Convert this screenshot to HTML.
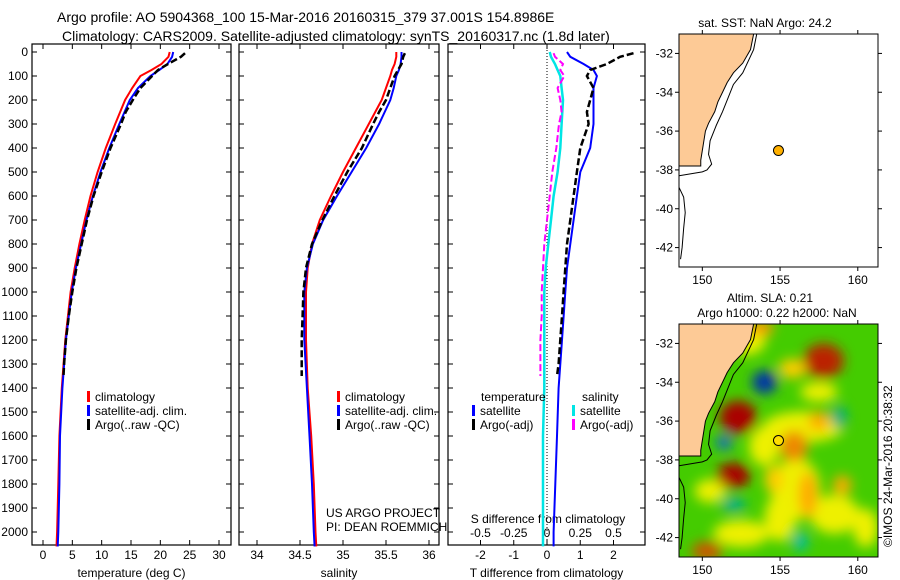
<!DOCTYPE html>
<html><head><meta charset="utf-8">
<style>
html,body{margin:0;padding:0;background:#fff;}
svg{display:block;font-family:"Liberation Sans",sans-serif;}
text{fill:#000;}
</style></head>
<body>
<svg id="fig" width="900" height="580" viewBox="0 0 900 580">
<defs>
  <filter id="blur" x="-20%" y="-20%" width="140%" height="140%"><feGaussianBlur stdDeviation="6"/></filter>
  <clipPath id="map2clip"><rect x="679" y="324" width="199" height="233"/></clipPath>
  <clipPath id="map1clip"><rect x="679" y="34" width="199" height="233"/></clipPath>
</defs>
<text x="57" y="22" font-size="14">Argo profile: AO 5904368_100 15-Mar-2016 20160315_379 37.001S 154.8986E</text>
<text x="62" y="41" font-size="14">Climatology: CARS2009. Satellite-adjusted climatology: synTS_20160317.nc (1.8d later)</text>
<g id="panels"></g>
<g id="maps"></g>
<text transform="translate(892,547) rotate(-90)" font-size="12">©IMOS 24-Mar-2016 20:38:32</text>
</svg>
<script>
// ---------- data ----------
const tDepth = [0,20,50,75,100,150,200,300,400,500,600,700,800,900,1000,1200,1400,1600,1800,2000,2060];
const tClim  = [21.6,21.4,20.2,18.5,16.6,15.2,14.0,12.3,10.7,9.3,8.1,7.1,6.2,5.4,4.7,3.8,3.2,2.8,2.6,2.4,2.3];
const tSat   = [22.2,22.0,21.2,19.8,18.3,16.2,14.8,13.0,11.3,9.8,8.5,7.4,6.5,5.6,4.9,3.9,3.3,2.9,2.8,2.6,2.5];
const aDepth = [5,20,50,75,100,150,200,250,300,400,500,600,700,800,900,1000,1100,1200,1300,1350];
const tArgo  = [24.2,23.5,21.3,19.6,18.6,16.6,15.3,14.1,13.3,11.5,10.0,8.6,7.5,6.6,5.7,5.0,4.4,3.9,3.6,3.5];
const sClim  = [35.62,35.62,35.60,35.57,35.55,35.50,35.45,35.30,35.15,35.00,34.86,34.73,34.64,34.59,34.57,34.57,34.59,34.63,34.66,34.68,34.69];
const sSat   = [35.68,35.68,35.67,35.65,35.62,35.59,35.55,35.42,35.27,35.10,34.93,34.77,34.65,34.58,34.55,34.55,34.58,34.61,34.64,34.66,34.67];
const sArgo  = [35.72,35.70,35.68,35.64,35.60,35.55,35.50,35.42,35.35,35.22,35.05,34.90,34.76,34.64,34.57,34.54,34.53,34.52,34.52,34.52];
const dTSat  = [0.6,0.7,1.1,1.4,1.5,1.4,1.4,1.4,1.3,1.0,0.9,0.8,0.7,0.6,0.55,0.45,0.35,0.3,0.25,0.2,0.2];
const dTArgo = [2.6,2.2,1.8,1.3,1.2,1.4,1.3,1.2,1.25,1.0,0.9,0.8,0.7,0.6,0.55,0.5,0.45,0.4,0.35,0.3];
const dSSat  = [0.02,0.03,0.06,0.08,0.10,0.11,0.12,0.11,0.10,0.08,0.05,0.03,0.01,-0.01,-0.02,-0.02,-0.02,-0.03,-0.03,-0.03,-0.03];
const dSArgo = [0.05,0.06,0.12,0.10,0.13,0.08,0.10,0.11,0.09,0.07,0.04,0.02,0.0,-0.02,-0.03,-0.04,-0.04,-0.05,-0.05,-0.05];
const depthTicks = [0,100,200,300,400,500,600,700,800,900,1000,1100,1200,1300,1400,1500,1600,1700,1800,1900,2000];
const tTicks = [0,5,10,15,20,25,30];
const sTicks = [34,34.5,35,35.5,36];
const sTickLabels = ["34","34.5","35","35.5","36"];
const dTTicks = [-2,-1,0,1,2];
const dSTicks = [-0.5,-0.25,0,0.25,0.5];
const dSTickLabels = ["-0.5","-0.25","0","0.25","0.5"];
const lonTicks = [150,155,160];
const latTicks = [-32,-34,-36,-38,-40,-42];
const argoLon = 154.8986, argoLat = -37.001;
const coastLon = [153.3,153.1,152.6,152.0,151.6,151.3,151.0,150.8,150.4,150.2,150.1,150.0,149.9,149.9,148.5];
const coastLat = [-31.0,-31.8,-32.5,-33.0,-33.5,-34.0,-34.5,-35.0,-35.6,-36.0,-36.5,-37.0,-37.5,-37.8,-37.8];
const isoLon = [153.5,153.3,152.6,152.0,151.6,151.3,150.9,150.5,150.4,150.6,150.3,150.0,148.5];
const isoLat = [-31.0,-31.8,-33.0,-33.6,-34.4,-35.0,-35.7,-36.5,-37.2,-37.7,-38.0,-38.1,-38.3];
const iso2Lon = [148.5,148.8,148.9,148.8,148.7,148.6];
const iso2Lat = [-38.9,-39.4,-40.2,-41.0,-42.0,-42.6];
// yellow patches: lon, lat, rx, ry
const yelLon = [152.8,156.5,156.0,158.5,152.5,155.0,160.5,150.5,157.5,154.0];
const yelLat = [-31.8,-36.3,-39.5,-40.8,-41.8,-41.0,-41.5,-39.6,-34.5,-37.3];
const yelRx  = [1.3,2.6,1.6,1.6,1.8,1.0,0.8,1.0,1.2,1.0];
const yelRy  = [0.8,0.8,1.6,1.0,0.7,1.2,1.0,0.6,0.5,1.0];
// SLA blobs: lon, lat, rx(deg), ry(deg), colour
const slaLon = [152.3,152.0,157.8,154.0,151.4,158.8,156.3,155.9,150.3,156.8,152.0,159.0,155.8,154.6,157.5,153.8];
const slaLat = [-35.8,-38.8,-32.9,-34.0,-37.1,-35.8,-42.2,-37.3,-42.7,-39.8,-40.3,-39.3,-33.3,-39.0,-36.0,-31.2];
const slaRx  = [1.2,1.1,1.3,0.8,0.5,0.5,0.5,0.9,1.0,0.6,0.8,0.6,0.9,0.6,0.7,0.8];
const slaRy  = [0.85,0.65,0.9,0.6,0.4,0.6,0.5,0.8,0.5,1.2,0.35,0.5,0.5,0.7,0.5,0.4];
const slaCol = ["#aa0000","#aa0000","#bb2200","#0033aa","#1166cc","#00aa88","#00bbaa","#ee8800","#cc5500","#ffaa00","#00aa99","#ffaa00","#ffcc00","#ffcc00","#ffaa00","#ff9900"];

const NS = "http://www.w3.org/2000/svg";
function mk(tag, attrs, parent){const e=document.createElementNS(NS,tag);for(const k in attrs)e.setAttribute(k,attrs[k]);parent.appendChild(e);return e;}
const panelsG = document.getElementById('panels');
const mapsG = document.getElementById('maps');
const Y0=52, Y2000=532;
function yD(d){return Y0+(Y2000-Y0)*d/2000;}
const PT=44, PB=545;

function panel(x0,x1,name,xf,ticks,labels,xlabel,showDepth){
  const g=mk('g',{},panelsG);
  
  
  const r=mk('rect',{x:x0,y:PT,width:x1-x0,height:PB-PT,fill:'none',stroke:'#000','stroke-width':1.2},g);
  
  
  depthTicks.forEach(d=>{
    const y=yD(d);
    mk('line',{x1:x0,x2:x0+5,y1:y,y2:y,stroke:'#000'},g);
    mk('line',{x1:x1-5,x2:x1,y1:y,y2:y,stroke:'#000'},g);
    if(showDepth){const t=mk('text',{x:x0-4,y:y+4,'font-size':12,'text-anchor':'end'},g);t.textContent=String(d);
      
      }
  });
  ticks.forEach((v,i)=>{
    const x=xf(v);
    mk('line',{x1:x,x2:x,y1:PT,y2:PT+5,stroke:'#000'},g);
    mk('line',{x1:x,x2:x,y1:PB-5,y2:PB,stroke:'#000'},g);
    const t=mk('text',{x:x,y:PB+14,'font-size':12,'text-anchor':'middle'},g);t.textContent=labels[i];
    
    
  });
  const xl=mk('text',{x:(x0+x1)/2,y:577,'font-size':12,'text-anchor':'middle'},g);xl.textContent=xlabel;
  
  
  return g;
}
function line(g,xs,ds,xf,col,w,dash,name){
  const pts=xs.map((v,i)=>xf(v).toFixed(1)+','+yD(ds[i]).toFixed(1)).join(' ');
  const p=mk('polyline',{points:pts,fill:'none',stroke:col,'stroke-width':w},g);
  if(dash)p.setAttribute('stroke-dasharray',dash);
  
  
}
function legend(g,x,y,col,txt,name){
  mk('rect',{x:x,y:y-10,width:3,height:11,fill:col},g);
  const t=mk('text',{x:x+8,y:y,'font-size':12},g);t.textContent=txt;
  
  
}
// Panel 1: temperature
const xT=v=>43+v*(219-43)/30;
const g1=panel(32,231,'temperature-panel',xT,tTicks,tTicks.map(String),'temperature (deg C)',true);
line(g1,tClim,tDepth,xT,'#ff0000',2,null,'temp-climatology-line');
line(g1,tSat,tDepth,xT,'#0000ff',2,null,'temp-satellite-line');
line(g1,tArgo,aDepth,xT,'#000',2.5,'7,3','temp-argo-line');
legend(g1,87,401,'#ff0000','climatology','legend-climatology');
legend(g1,87,415,'#0000ff','satellite-adj. clim.','legend-satellite');
legend(g1,87,429,'#000','Argo(..raw -QC)','legend-argo');
// Panel 2: salinity
const xS=v=>257+(v-34)*(429-257)/2;
const g2=panel(239,439,'salinity-panel',xS,sTicks,sTickLabels,'salinity',false);
line(g2,sClim,tDepth,xS,'#ff0000',2,null,'sal-climatology-line');
line(g2,sSat,tDepth,xS,'#0000ff',2,null,'sal-satellite-line');
line(g2,sArgo,aDepth,xS,'#000',2.5,'7,3','sal-argo-line');
legend(g2,337,401,'#ff0000','climatology','legend-climatology');
legend(g2,337,415,'#0000ff','satellite-adj. clim.','legend-satellite');
legend(g2,337,429,'#000','Argo(..raw -QC)','legend-argo');
const c1=mk('text',{x:326,y:517,'font-size':12},g2);c1.textContent='US ARGO PROJECT';


const c2=mk('text',{x:326,y:531,'font-size':12},g2);c2.textContent='PI: DEAN ROEMMICH';


// Panel 3: differences
const xDT=v=>547+v*(614-481)/4;
const xDS=v=>547+v*(614-481);
const g3=panel(448,645,'difference-panel',xDT,dTTicks,dTTicks.map(String),'T difference from climatology',false);
mk('line',{x1:547,x2:547,y1:PT,y2:PB,stroke:'#000','stroke-dasharray':'1,2'},g3);
dSTicks.forEach((v,i)=>{const t=mk('text',{x:xDS(v),y:537,'font-size':12,'text-anchor':'middle'},g3);t.textContent=dSTickLabels[i];
  
  });
const st=mk('text',{x:548,y:523,'font-size':12,'text-anchor':'middle'},g3);st.textContent='S difference from climatology';


line(g3,dTSat,tDepth,xDT,'#0000ff',2,null,'t-diff-satellite-line');
line(g3,dTArgo,aDepth,xDT,'#000',2.5,'7,3','t-diff-argo-line');
line(g3,dSSat,tDepth,xDS,'#00e5e5',2.5,null,'s-diff-satellite-line');
line(g3,dSArgo,aDepth,xDS,'#ff00ff',2,'7,3','s-diff-argo-line');
const lt=mk('text',{x:481,y:401,'font-size':12},g3);lt.textContent='temperature';


legend(g3,472,415,'#0000ff','satellite','legend-t-satellite');
legend(g3,472,429,'#000','Argo(-adj)','legend-t-argo');
const ls=mk('text',{x:582,y:401,'font-size':12},g3);ls.textContent='salinity';


legend(g3,572,415,'#00e5e5','satellite','legend-s-satellite');
legend(g3,572,429,'#ff00ff','Argo(-adj)','legend-s-argo');

// Maps
const MX0=679,MX1=878,LON0=148.5,LON1=161.3;
const mx=lon=>MX0+(lon-LON0)*(MX1-MX0)/(LON1-LON0);
function map(top,name,title,clip,sla){
  const g=mk('g',{},mapsG);
  
  
  const my=lat=>top+(-31-lat)*233/12;
  const inner=mk('g',{'clip-path':'url(#'+clip+')'},g);
  if(sla){
    mk('rect',{x:MX0,y:top,width:199,height:233,fill:'#44cc00'},inner);
    const bg=mk('g',{filter:'url(#blur)'},inner);
    yelLon.forEach((lon,i)=>{
      const e=mk('ellipse',{cx:mx(lon),cy:my(yelLat[i]),rx:yelRx[i]*15.5,ry:yelRy[i]*19.4,fill:'#eef000'},bg);
      
      
    });
    slaLon.forEach((lon,i)=>{
      const e=mk('ellipse',{cx:mx(lon),cy:my(slaLat[i]),rx:slaRx[i]*15.5,ry:slaRy[i]*19.4,fill:slaCol[i]},bg);
      
      
    });
  }
  const land=coastLon.map((l,i)=>mx(l)+','+my(coastLat[i])).join(' ')+' '+MX0+','+top;
  const lp=mk('polygon',{points:land,fill:'#fdca96',stroke:'#000','stroke-width':1},inner);
  
  
  mk('polyline',{points:isoLon.map((l,i)=>mx(l)+','+my(isoLat[i])).join(' '),fill:'none',stroke:'#000','stroke-width':1},inner);
  mk('polyline',{points:iso2Lon.map((l,i)=>mx(l)+','+my(iso2Lat[i])).join(' '),fill:'none',stroke:'#000','stroke-width':1},inner);
  const fr=mk('rect',{x:MX0,y:top,width:199,height:233,fill:'none',stroke:'#000','stroke-width':1},g);
  
  
  lonTicks.forEach(l=>{const x=mx(l);
    mk('line',{x1:x,x2:x,y1:top,y2:top-4,stroke:'#000'},g);
    mk('line',{x1:x,x2:x,y1:top+233,y2:top+237,stroke:'#000'},g);
    const t=mk('text',{x:x,y:top+250,'font-size':12,'text-anchor':'middle'},g);t.textContent=String(l);
    
    });
  latTicks.forEach(l=>{const y=my(l);
    mk('line',{x1:MX0,x2:MX0-4,y1:y,y2:y,stroke:'#000'},g);
    mk('line',{x1:MX1,x2:MX1+4,y1:y,y2:y,stroke:'#000'},g);
    const t=mk('text',{x:MX0-6,y:y+4,'font-size':12,'text-anchor':'end'},g);t.textContent=String(l);
    
    });
  const c=mk('circle',{cx:mx(argoLon),cy:my(argoLat),r:5,fill:sla?'#ffdd00':'#ffb000',stroke:'#000'},g);
  
  
  title.forEach((tt,i)=>{const t=mk('text',{x:tt[1],y:tt[2],'font-size':12,'text-anchor':'middle'},g);t.textContent=tt[0];
    
    });
}
map(34,'sst-map',[['sat. SST: NaN Argo: 24.2',765,27]],'map1clip',false);
map(324,'sla-map',[['Altim. SLA: 0.21',770,302],['Argo h1000: 0.22 h2000: NaN',777,317]],'map2clip',true);
</script>
</body></html>
